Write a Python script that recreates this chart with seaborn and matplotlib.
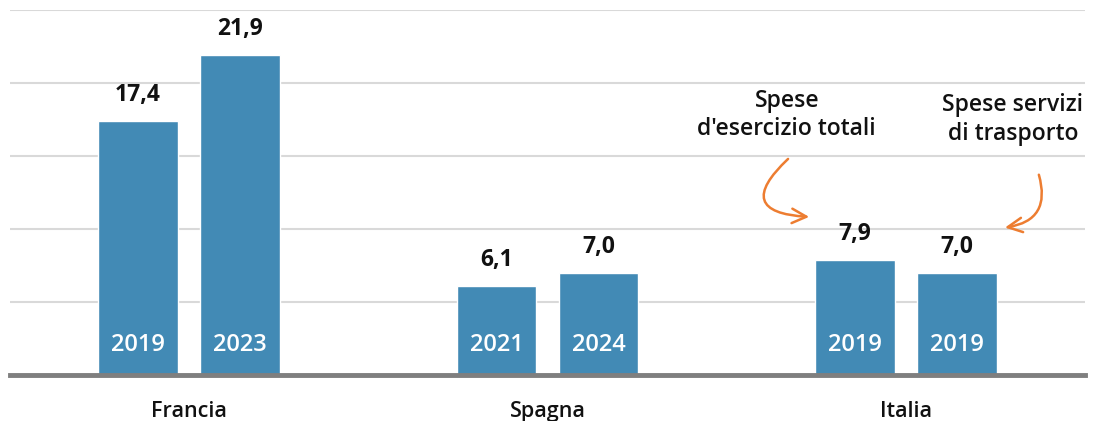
import pandas as pd
import numpy as np
import matplotlib.pyplot as plt
import seaborn as sns

paesi = ["Francia", "Spagna", "Italia"]
valori_1 = [17.4, 6.1, 7.9]
valori_2 = [21.9, 7.0, 7.0]
anni_1 = ["2019", "2021", "2019"]
anni_2 = ["2023", "2024", "2019"]

df = pd.DataFrame({
    "paese": paesi * 2,
    "valore": valori_1 + valori_2,
    "anno": anni_1 + anni_2,
    "serie": ["a"] * 3 + ["b"] * 3,
})

sns.set_style("white")
plt.rcParams['font.family'] = ['Open Sans', 'DejaVu Sans']

fig = plt.figure(figsize=(10.97, 4.21), dpi=100)
ax = fig.add_axes([10 / 1097, 46 / 421, 1075 / 1097, 365 / 421])

blu = "#428AB5"
sns.barplot(data=df, x="paese", y="valore", hue="serie", order=paesi,
            palette=[blu, blu], width=0.57, gap=0.22, legend=False,
            saturation=1, ax=ax, zorder=3)

ax.set_ylim(0, 25)
ax.set_xlim(-0.5, 2.5)
ax.set_yticks([5, 10, 15, 20, 25])
ax.yaxis.grid(True, color="#D9D9D9", linewidth=1.5, zorder=0)
ax.set_yticklabels([])
ax.tick_params(left=False, bottom=False, pad=15)
for s in ["top", "right", "left"]:
    ax.spines[s].set_visible(False)
ax.spines["bottom"].set_color("#7F7F7F")
ax.spines["bottom"].set_linewidth(3.5)
ax.spines["bottom"].set_zorder(4)
ax.set_xlabel("")
ax.set_ylabel("")
for lab in ax.get_xticklabels():
    lab.set_fontsize(15.5)
    lab.set_fontweight("semibold")
    lab.set_color("#111111")

anni = [anni_1, anni_2]
for i, cont in enumerate(ax.containers):
    for j, bar in enumerate(cont):
        xc = bar.get_x() + bar.get_width() / 2
        h = bar.get_height()
        ax.text(xc, h + 0.95, f"{h:.1f}".replace(".", ","), ha="center",
                va="bottom", fontsize=16.5, fontweight="bold", color="#111111")
        ax.text(xc, 2.05, anni[i][j], ha="center", va="center",
                fontsize=17, fontweight="semibold", color="white", zorder=5)

arancio = "#ED7D31"
ax.text(1.668, 17.8, "Spese\nd'esercizio totali", ha="center", va="center",
        fontsize=16.5, fontweight="semibold", color="#111111", linespacing=1.25)
ax.text(2.299, 17.5, "Spese servizi\ndi trasporto", ha="center", va="center",
        fontsize=16.5, fontweight="semibold", color="#111111", linespacing=1.25)
ax.annotate("", xy=(1.738, 10.82), xytext=(1.677, 14.93),
            arrowprops=dict(arrowstyle="->", color=arancio, lw=1.8,
                            connectionstyle="arc3,rad=1.2",
                            mutation_scale=26))
ax.annotate("", xy=(2.269, 10.07), xytext=(2.369, 13.9),
            arrowprops=dict(arrowstyle="->", color=arancio, lw=1.8,
                            connectionstyle="arc3,rad=-0.6",
                            mutation_scale=26))

fig.savefig("out.png", dpi=100)
